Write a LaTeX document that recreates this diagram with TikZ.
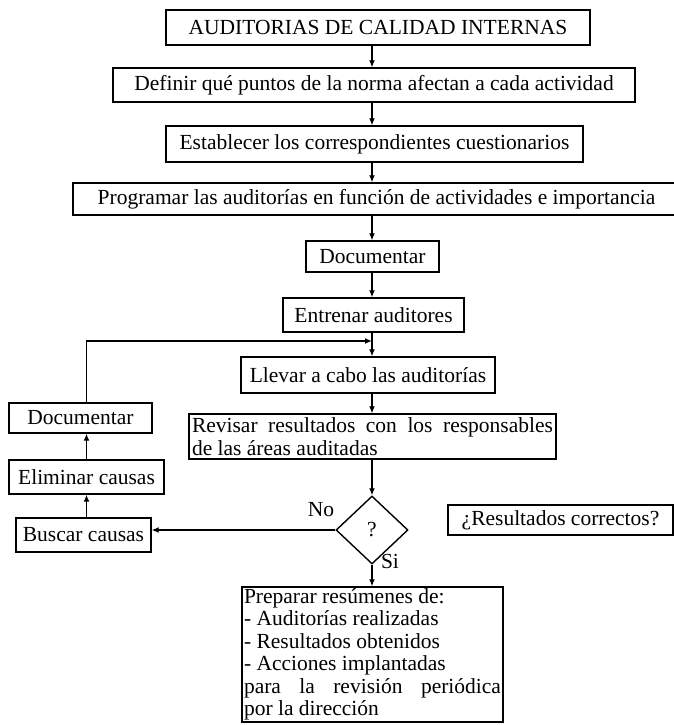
\documentclass[tikz,border=0pt]{standalone}
\usepackage{fontspec}
\setmainfont{Liberation Serif}
\usetikzlibrary{arrows.meta,shapes.geometric}
\newcommand{\flowfont}{\fontsize{21.5}{22.5}\selectfont}
\begin{document}
\begin{tikzpicture}[x=1pt,y=-1pt,
  caja/.style={draw, line width=1.4pt, inner sep=0pt, font=\flowfont},
  flecha/.style={line width=1.3pt, -{Latex[length=7pt,width=6pt]}},
  etiqueta/.style={font=\flowfont, inner sep=0pt}]
\fill[white] (0,0) rectangle (674,725);
\useasboundingbox (0,0) rectangle (674,725);

% main column
\coordinate (sp) at (372,0);
\node[caja, minimum width=424, minimum height=35] (t)    at (378,27.5)  {AUDITORIAS DE CALIDAD INTERNAS};
\node[caja, minimum width=522, minimum height=34] (def)  at (374,85)    {Definir qué puntos de la norma afectan a cada actividad};
\node[caja, minimum width=417, minimum height=36] (est)  at (374.5,144) {Establecer los correspondientes cuestionarios};
\node[caja, minimum width=607, minimum height=32] (prog) at (376.5,199) {Programar las auditorías en función de actividades e importancia};
\node[caja, minimum width=133, minimum height=31] (doc)  at (372.5,256.5) {Documentar};
\node[caja, minimum width=181, minimum height=34] (ent)  at (373.5,315) {Entrenar auditores};
\node[caja, minimum width=254, minimum height=36] (llev) at (368,375)   {Llevar a cabo las auditorías};
\node[caja, text width=361, inner xsep=3pt, minimum height=45, align=justify] (rev) at (372.5,436.5)
  {Revisar resultados con los responsables\linebreak de las áreas auditadas};
\node[draw, diamond, line width=1.4pt, inner sep=0pt, minimum width=72, minimum height=68, font=\flowfont] (q) at (372,530) {?};
\node[caja, text width=257, inner xsep=2pt, minimum height=135, align=justify] (prep) at (372.5,654.5)
  {Preparar resúmenes de:\\- Auditorías realizadas\\- Resultados obtenidos\\- Acciones implantadas\\para la revisión periódica\linebreak por la dirección};

% corrective branch
\node[caja, minimum width=143, minimum height=30] (doc2) at (80.5,418) {Documentar};
\node[caja, minimum width=155, minimum height=34] (elim) at (86.5,477) {Eliminar causas};
\node[caja, minimum width=135, minimum height=34] (busc) at (83.5,535) {Buscar causas};

% legend for the decision
\node[caja, minimum width=225, minimum height=30] (leg) at (560.5,520) {¿Resultados correctos?};

% decision labels
\node[etiqueta] (no) at (321,510) {No};
\node[etiqueta] (si) at (390,561) {Si};

% connectors
\draw[flecha] (t.south -| sp) -- (def.north -| sp);
\draw[flecha] (def.south -| sp) -- (est.north -| sp);
\draw[flecha] (est.south -| sp) -- (prog.north -| sp);
\draw[flecha] (prog.south -| sp) -- (doc.north -| sp);
\draw[flecha] (doc.south -| sp) -- (ent.north -| sp);
\draw[flecha] (ent.south -| sp) -- (llev.north -| sp);
\draw[flecha] (llev.south -| sp) -- (rev.north -| sp);
\draw[flecha] (rev.south -| sp) -- (q.north);
\draw[flecha] (q.south) -- (prep.north -| q.south);
\draw[flecha] (q.west) -- (q.west -| busc.east);
\draw[flecha] (busc.north -| elim.south) -- (elim.south);
\draw[flecha] (elim.north) -- (elim.north |- doc2.south);
\coordinate (lj) at (372,341);
\draw[flecha] (elim.north |- doc2.north) |- (lj);
\end{tikzpicture}
\end{document}
